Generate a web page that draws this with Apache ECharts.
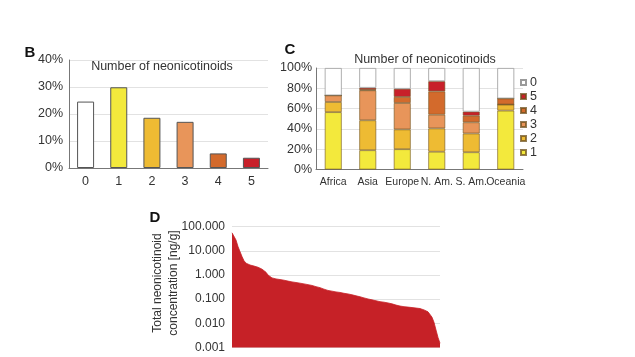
<!DOCTYPE html>
<html><head><meta charset="utf-8">
<script src="https://cdn.jsdelivr.net/npm/echarts@6/dist/echarts.min.js"></script>
<style>html,body{margin:0;padding:0;background:#fff}#c{width:635px;height:357px}</style>
</head><body><div id="c"></div>
<script>
// Panel B
var countCats = ['0','1','2','3','4','5'];
var countShare = [24.6, 29.9, 18.6, 17.1, 5.4, 3.8];
var bTicks = [0, 10, 20, 30, 40];
// Panel C
var regions = ['Africa','Asia','Europe','N. Am.','S. Am.','Oceania'];
var share1 = [56.5, 19, 20, 17.5, 17, 58];
var share2 = [10, 29.5, 19.5, 23, 18.5, 6];
var share3 = [6.5, 29.5, 26, 13.5, 11, 0];
var share4 = [0, 0.5, 6, 23, 6.5, 6];
var share5 = [0, 2, 8, 10, 4, 0];
var share0 = [27, 19.5, 20.5, 13, 43, 30];
// Panel D (sorted total concentrations, ng/g)
var concentration = [56,50,28,15,9.3,5.8,3.9,3.1,2.8,2.6,2.45,2.35,2.25,2.1,2.0,1.75,1.5,1.3,1.0,0.84,
0.76,0.72,0.69,0.66,0.65,0.63,0.61,0.58,0.56,0.54,0.52,0.50,0.49,0.48,0.46,0.45,0.43,0.42,0.40,0.39,
0.37,0.35,0.33,0.32,0.30,0.28,0.26,0.245,0.23,0.22,0.215,0.205,0.20,0.195,0.19,0.18,0.175,0.17,0.165,0.16,
0.152,0.145,0.138,0.132,0.126,0.12,0.113,0.107,0.102,0.098,0.094,0.09,0.086,0.082,0.079,0.077,0.075,0.072,0.070,0.068,
0.064,0.060,0.057,0.054,0.052,0.051,0.049,0.048,0.047,0.046,0.045,0.044,0.043,0.042,0.041,0.039,0.036,0.034,0.030,0.026,
0.018,0.011,0.0053,0.0026,0.0015];

var FONT = 'Liberation Sans, Arial, Helvetica, sans-serif';
var cols = {'0':'#ffffff','1':'#f3e93c','2':'#eebb33','3':'#e8955a','4':'#d36a2c','5':'#c8202a'};
var chart = echarts.init(document.getElementById('c'), null, {renderer:'canvas'});
var grid = '#e2e2e2', axisCol = '#777', txt = '#333';

function segSeries(name, data){
  return {name:name, type:'bar', xAxisIndex:1, yAxisIndex:1, stack:'c', barWidth:17, data:data,
    itemStyle:{color:cols[name], borderColor: name==='0' ? '#9a9a9a' : 'rgba(110,80,30,0.75)', borderWidth:0.8},
    emphasis:{disabled:true}};
}

chart.setOption({
  animation:false,
  backgroundColor:'#fff',
  textStyle:{fontFamily:FONT},
  grid:[
    {left:69, top:60, width:199, height:108},
    {left:316, top:68, width:207, height:101.5},
    {left:232, top:226.7, width:208, height:120.8}
  ],
  xAxis:[
    {gridIndex:0, type:'category', data:countCats, axisTick:{show:false},
     axisLine:{lineStyle:{color:axisCol, width:1}},
     axisLabel:{color:txt, fontSize:12.5, fontFamily:FONT, margin:7}},
    {gridIndex:1, type:'category', data:regions, axisTick:{show:false},
     axisLine:{lineStyle:{color:axisCol, width:1}},
     axisLabel:{color:txt, fontSize:10.5, fontFamily:FONT, margin:7, interval:0}},
    {gridIndex:2, type:'category', data:concentration.map(function(_,i){return i+1;}), boundaryGap:false, show:false}
  ],
  yAxis:[
    {gridIndex:0, type:'value', min:0, max:40, interval:10,
     axisLine:{show:true, lineStyle:{color:axisCol, width:1}}, axisTick:{show:false},
     splitLine:{lineStyle:{color:grid}},
     axisLabel:{color:txt, fontSize:12.5, fontFamily:FONT, margin:6, formatter:'{value}%'}},
    {gridIndex:1, type:'value', min:0, max:100, interval:20,
     axisLine:{show:true, lineStyle:{color:axisCol, width:1}}, axisTick:{show:false},
     splitLine:{lineStyle:{color:grid}},
     axisLabel:{color:txt, fontSize:12.5, fontFamily:FONT, margin:4, formatter:'{value}%'}},
    {gridIndex:2, type:'log', logBase:10, min:0.001, max:100,
     axisLine:{show:false}, axisTick:{show:false},
     splitLine:{lineStyle:{color:grid}},
     axisLabel:{color:txt, fontSize:12, fontFamily:FONT, margin:7,
       formatter:function(v){return Number(v).toFixed(3);}}}
  ],
  legend:{
    orient:'vertical', left:520, top:76, padding:0, itemWidth:5, itemHeight:5, itemGap:1,
    data:['0','5','4','3','2','1'], icon:'rect',
    textStyle:{color:txt, fontSize:12.5, fontFamily:FONT, lineHeight:13, padding:[0,0,0,-1]},
    selectedMode:false
  },
  series:[
    {type:'bar', xAxisIndex:0, yAxisIndex:0, barWidth:17,
     data:countShare.map(function(v,i){return {value:v, itemStyle:{color:cols[countCats[i]]}};}),
     itemStyle:{borderColor:'#555', borderWidth:1}},
    segSeries('1', share1), segSeries('2', share2), segSeries('3', share3),
    segSeries('4', share4), segSeries('5', share5), segSeries('0', share0),
    {type:'line', xAxisIndex:2, yAxisIndex:2, data:concentration, symbol:'none', smooth:false,
     lineStyle:{color:'#c62127', width:0.8}, areaStyle:{color:'#c62127', opacity:1, origin:'start'}}
  ],
  graphic:[
    {type:'text', x:30, y:53, style:{text:'B', font:'bold 15px '+FONT, fill:'#111', textAlign:'center', textVerticalAlign:'middle'}},
    {type:'text', x:290, y:50, style:{text:'C', font:'bold 15px '+FONT, fill:'#111', textAlign:'center', textVerticalAlign:'middle'}},
    {type:'text', x:155, y:218, style:{text:'D', font:'bold 15px '+FONT, fill:'#111', textAlign:'center', textVerticalAlign:'middle'}},
    {type:'text', x:162, y:67, style:{text:'Number of neonicotinoids', font:'12.5px '+FONT, fill:txt, textAlign:'center', textVerticalAlign:'middle'}},
    {type:'text', x:425, y:60, style:{text:'Number of neonicotinoids', font:'12.5px '+FONT, fill:txt, textAlign:'center', textVerticalAlign:'middle'}},
    {type:'text', x:158, y:283, rotation:Math.PI/2, style:{text:'Total neonicotinoid', font:'12px '+FONT, fill:txt, textAlign:'center', textVerticalAlign:'middle'}},
    {type:'text', x:174, y:283, rotation:Math.PI/2, style:{text:'concentration [ng/g]', font:'12px '+FONT, fill:txt, textAlign:'center', textVerticalAlign:'middle'}}
  ]
});
</script>
</body></html>
